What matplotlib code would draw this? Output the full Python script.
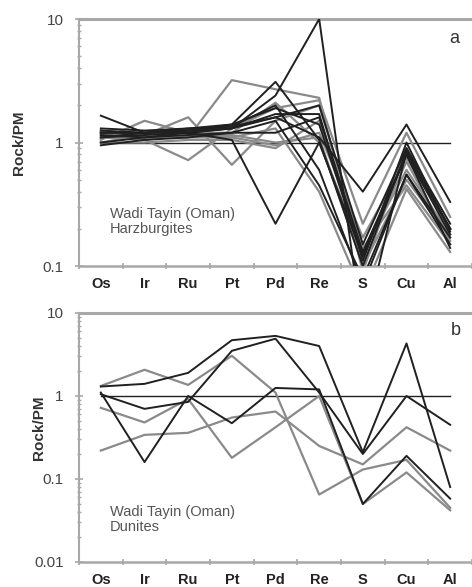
import numpy as np
import matplotlib
matplotlib.use("Agg")
from matplotlib import pyplot as plt
from matplotlib.ticker import LogLocator, NullFormatter, FixedLocator

plt.rcParams['font.family'] = ['Liberation Sans', 'DejaVu Sans']

elements = ['Os', 'Ir', 'Ru', 'Pt', 'Pd', 'Re', 'S', 'Cu', 'Al']

# harzburgites, normalised to primitive mantle
harz_black = [
    [1.20, 1.20, 1.25, 1.30, 2.40, 10.0, 0.03, 0.85, 0.20],
    [1.10, 1.15, 1.20, 1.05, 0.22, 1.00, 0.12, 0.80, 0.18],
    [1.20, 1.20, 1.25, 1.40, 3.10, 1.05, 0.10, 0.85, 0.20],
    [1.65, 1.20, 1.25, 1.35, 2.00, 0.60, 0.07, 0.55, 0.15],
    [1.30, 1.25, 1.30, 1.35, 1.60, 1.10, 0.40, 1.40, 0.33],
    [1.15, 1.10, 1.20, 1.30, 1.60, 2.00, 0.15, 0.90, 0.22],
    [1.25, 1.20, 1.30, 1.40, 1.90, 1.40, 0.12, 0.80, 0.20],
    [1.00, 1.10, 1.15, 1.20, 1.50, 0.45, 0.08, 0.55, 0.17],
    [1.10, 1.20, 1.20, 1.30, 1.70, 1.70, 0.11, 1.00, 0.19],
    [0.95, 1.05, 1.10, 1.20, 1.20, 1.60, 0.13, 0.80, 0.14],
]
harz_grey = [
    [1.20, 1.10, 1.10, 3.20, 2.70, 2.30, 0.09, 0.90, 0.20],
    [1.10, 1.05, 0.72, 1.30, 1.90, 2.20, 0.22, 1.20, 0.25],
    [1.00, 1.15, 1.60, 0.66, 1.50, 2.00, 0.14, 0.45, 0.15],
    [1.05, 1.50, 1.20, 1.10, 0.95, 1.20, 0.17, 0.75, 0.20],
    [1.15, 1.05, 1.15, 1.15, 1.00, 1.10, 0.10, 0.50, 0.17],
    [1.25, 1.10, 1.10, 1.10, 1.30, 0.40, 0.06, 0.42, 0.13],
    [1.00, 1.00, 1.05, 1.05, 0.90, 1.50, 0.12, 0.70, 0.16],
    [1.20, 1.15, 1.20, 1.20, 2.10, 1.00, 0.13, 0.60, 0.18],
]

# dunites
dun_black = [
    [1.30, 1.40, 1.90, 4.70, 5.30, 4.00, 0.21, 4.30, 0.08],
    [1.10, 0.16, 1.00, 0.47, 1.25, 1.20, 0.05, 0.19, 0.058],
    [1.05, 0.70, 0.85, 3.50, 4.90, 1.10, 0.20, 1.00, 0.45],
]
dun_grey = [
    [1.32, 2.07, 1.36, 3.05, 1.10, 0.065, 0.13, 0.17, 0.045],
    [0.72, 0.48, 0.92, 0.18, 0.42, 1.00, 0.05, 0.12, 0.042],
    [0.22, 0.34, 0.36, 0.55, 0.65, 0.25, 0.15, 0.42, 0.22],
]

BLACK = '#202020'
GREY = '#8a8a8a'
SPINE = '#a8a8a8'


def style_axis(ax, ymin, ymax):
    ax.set_yscale('log')
    ax.set_ylim(ymin, ymax)
    ax.set_xlim(-0.5, len(elements) - 0.5)
    ax.spines['right'].set_visible(False)
    ax.spines['top'].set_color(SPINE)
    ax.spines['top'].set_linewidth(2.2)
    ax.spines['left'].set_color(SPINE)
    ax.spines['left'].set_linewidth(1.5)
    ax.spines['bottom'].set_color(SPINE)
    ax.spines['bottom'].set_linewidth(1.8)
    ax.set_xticks(range(len(elements)))
    ax.set_xticklabels(elements, fontsize=10.5, fontweight='bold', color='#222222')
    ax.xaxis.set_minor_locator(FixedLocator(np.arange(-0.5, len(elements), 1.0)))
    ax.tick_params(axis='x', which='major', length=0, pad=8)
    ax.tick_params(axis='x', which='minor', length=4, direction='inout', color=SPINE, width=1.2)
    ax.yaxis.set_major_locator(LogLocator(base=10))
    ax.yaxis.set_minor_locator(LogLocator(base=10, subs=np.arange(2, 10)))
    ax.yaxis.set_minor_formatter(NullFormatter())
    ax.yaxis.set_major_formatter(plt.FuncFormatter(lambda v, p: f'{v:g}'))
    ax.tick_params(axis='y', which='major', length=6, direction='inout', color=SPINE,
                   width=1.2, labelsize=11, labelcolor='#444444', pad=8)
    ax.tick_params(axis='y', which='minor', length=3, direction='inout', color=SPINE, width=1.0)


def draw_panel(ax, black, grey):
    x = np.arange(len(elements))
    ax.plot(x, [1] * len(elements), color=BLACK, lw=1.0, zorder=1)
    for row in grey:
        ax.plot(x, row, color=GREY, lw=1.6, zorder=2)
    for row in black:
        ax.plot(x, row, color=BLACK, lw=1.4, zorder=3)


fig = plt.figure(figsize=(4.72, 5.87), dpi=100)
ax_a = fig.add_axes([0.1674, 0.5468, 0.8326, 0.4208])
ax_b = fig.add_axes([0.1674, 0.0426, 0.8326, 0.4242])

draw_panel(ax_a, harz_black, harz_grey)
style_axis(ax_a, 0.1, 10)
draw_panel(ax_b, dun_black, dun_grey)
style_axis(ax_b, 0.01, 10)

for ax, (xl, yl) in ((ax_a, (-0.135, 0.50)), (ax_b, (-0.085, 0.54))):
    ax.set_ylabel('Rock/PM', fontsize=11, fontweight='bold', color='#333333')
    ax.yaxis.set_label_coords(xl, yl)

ax_a.text(0.955, 0.92, 'a', transform=ax_a.transAxes, fontsize=13, color='#333333',
          ha='center', va='center')
ax_b.text(0.96, 0.93, 'b', transform=ax_b.transAxes, fontsize=13, color='#333333',
          ha='center', va='center')

ax_a.text(0.078, 0.18, 'Wadi Tayin (Oman)\nHarzburgites', transform=ax_a.transAxes,
          fontsize=10.5, color='#555555', ha='left', va='center', linespacing=1.15)
ax_b.text(0.078, 0.17, 'Wadi Tayin (Oman)\nDunites', transform=ax_b.transAxes,
          fontsize=10.5, color='#555555', ha='left', va='center', linespacing=1.15)

fig.savefig('out.png', dpi=100)
